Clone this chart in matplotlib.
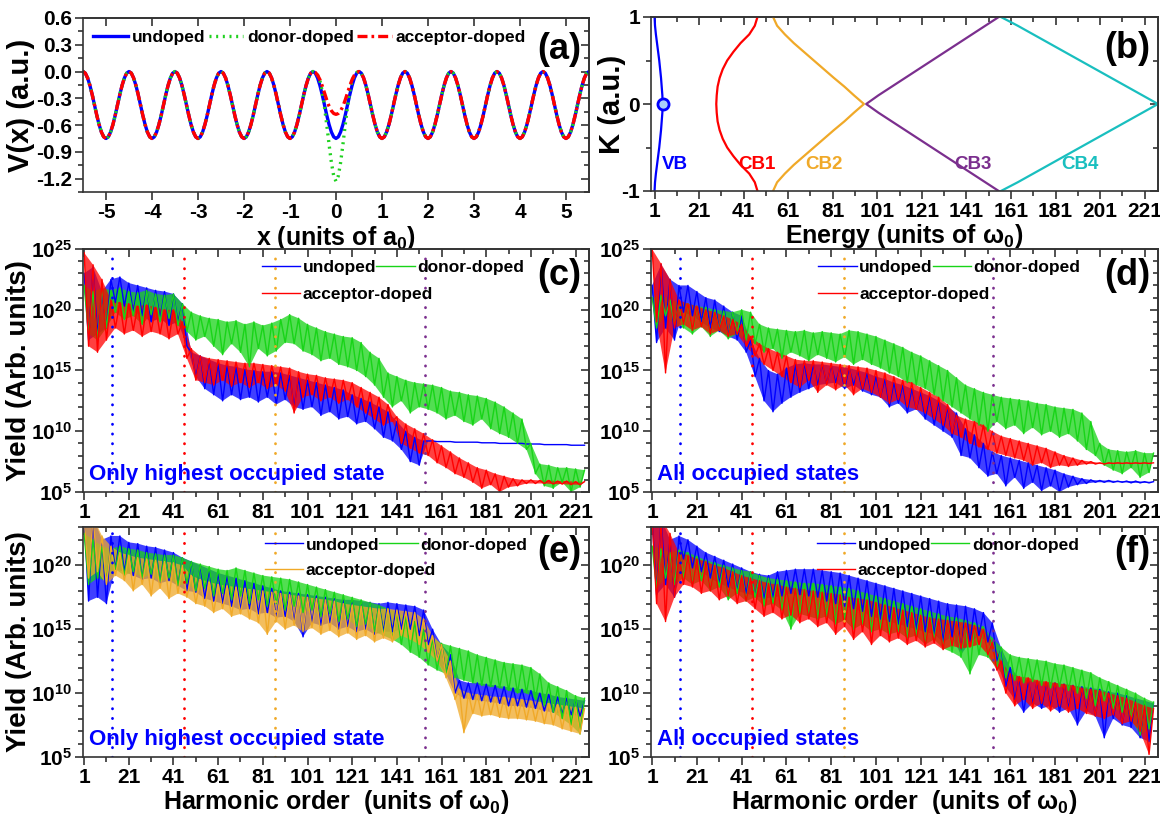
import numpy as np
import matplotlib.pyplot as plt
from matplotlib.ticker import FixedLocator, FuncFormatter, NullFormatter, FormatStrFormatter

plt.rcParams['font.family'] = ['Liberation Sans', 'DejaVu Sans']
plt.rcParams['font.weight'] = 'bold'
plt.rcParams['axes.labelweight'] = 'bold'
plt.rcParams['axes.unicode_minus'] = False
plt.rcParams['mathtext.fontset'] = 'custom'
plt.rcParams['mathtext.rm'] = 'Liberation Sans:bold'
plt.rcParams['mathtext.bf'] = 'Liberation Sans:bold'
plt.rcParams['mathtext.it'] = 'Liberation Sans:bold'

BLUE, GREEN, RED = '#0000ff', '#18d418', '#ff0000'
ORANGE, PURPLE, CYAN = '#f0a928', '#7b2f8e', '#19bfbf'
SPINE = '#333333'

# ---- (a) lattice potential: half a cell, from the well centre (0) to the barrier top (0.5)
cell_x = [0.0, 0.05, 0.1, 0.15, 0.2, 0.25, 0.3, 0.35, 0.4, 0.45, 0.5]
lattice_v = [-0.75, -0.732, -0.678, -0.595, -0.491, -0.375, -0.259, -0.155, -0.072, -0.018, 0.0]
donor_v = [-1.23, -1.17, -1.02, -0.82, -0.60, -0.40, -0.22, -0.10, -0.04, -0.01, 0.0]
acceptor_v = [-0.48, -0.47, -0.44, -0.39, -0.32, -0.24, -0.16, -0.09, -0.04, -0.01, 0.0]
cells = list(range(-5, 6))

# ---- (b) bands, E (units of w0) at k = 0 ... 1 (symmetric in k)
k_half = [0.0, 0.1, 0.2, 0.3, 0.4, 0.5, 0.6, 0.7, 0.8, 0.9, 1.0]
vb = [4.6, 4.5, 4.2, 3.9, 3.5, 3.1, 2.6, 2.1, 1.6, 1.2, 1.0]
cb1 = [28.7, 28.9, 29.3, 30.2, 31.6, 33.6, 36.4, 39.6, 43.5, 46.0, 47.2]
cb2 = [95.0, 90.5, 86.2, 81.5, 77.0, 72.5, 68.0, 63.5, 59.5, 56.0, 54.2]
cb3 = [96.0, 101.5, 107.5, 113.5, 119.5, 125.5, 131.5, 137.5, 143.5, 149.5, 155.5]
cb4 = [227.0, 220.0, 213.0, 206.0, 199.0, 192.0, 185.0, 178.0, 171.0, 164.0, 156.5]
band_names = ['VB', 'CB1', 'CB2', 'CB3', 'CB4']
band_label_e = [10, 47, 77, 144, 192]

# ---- (c)-(f) spectra, log10(yield): peaks at orders 1,5,9,... and dips at 3,7,11,...
orders = np.arange(1, 227, 2)
gap_orders = [13.5, 45.5, 86.5, 153.5]

c_undoped_top = [23.0, 23.5, 21.5, 22.5, 22.7, 22.2, 22.0, 21.8, 21.6, 21.5,
                 21.3, 20.5, 16.5, 16.2, 15.9, 15.6, 15.4, 15.3, 15.1, 15.0,
                 14.9, 14.9, 14.8, 14.6, 14.4, 14.2, 14.0, 13.8, 13.6, 13.4,
                 13.0, 12.7, 12.4, 12.0, 11.6, 10.8, 10.0, 9.5, 9.2, 9.2,
                 9.15, 9.15, 9.1, 9.1, 9.1, 9.05, 9.05, 9.0, 9.0, 9.0,
                 8.95, 8.95, 8.9, 8.9, 8.9, 8.85, 8.85]
c_undoped_bot = [17.5, 18.0, 18.5, 20.6, 20.3, 19.8, 19.5, 19.0, 19.3, 18.7,
                 19.0, 17.0, 14.5, 13.5, 13.0, 12.5, 13.0, 12.6, 12.8, 12.4,
                 12.8, 12.2, 12.6, 12.0, 11.8, 12.0, 11.3, 11.6, 11.0, 11.2,
                 10.6, 10.8, 10.2, 9.5, 9.2, 8.5, 7.5, 7.2, 9.2, 9.15,
                 9.15, 9.1, 9.1, 9.1, 9.05, 9.05, 9.0, 9.0, 9.0, 8.95,
                 8.95, 8.9, 8.9, 8.9, 8.85, 8.85]
c_donor_top = [22.0, 21.5, 21.8, 21.6, 21.8, 21.5, 21.4, 21.6, 21.3, 21.2,
               21.3, 20.5, 19.8, 19.5, 19.3, 19.2, 19.0, 19.1, 18.8, 19.0,
               18.7, 18.9, 19.2, 19.6, 19.3, 18.8, 18.5, 18.2, 18.0, 17.8,
               17.7, 17.3, 16.5, 16.0, 14.8, 14.5, 14.2, 14.0, 13.9, 13.8,
               13.6, 13.3, 13.2, 13.0, 12.9, 12.7, 12.4, 12.0, 11.5, 11.0,
               9.0, 7.3, 7.2, 7.0, 7.0, 6.9, 6.8]
c_donor_bot = [18.0, 17.5, 18.5, 19.8, 19.2, 19.5, 18.8, 19.6, 19.0, 19.3,
               18.7, 18.2, 17.5, 17.8, 17.0, 16.3, 17.2, 16.5, 15.3, 16.8,
               16.2, 16.6, 17.3, 17.2, 16.6, 16.3, 15.8, 16.0, 15.5, 15.3,
               15.0, 14.5, 13.8, 12.8, 12.0, 12.5, 11.5, 12.0, 11.8, 11.5,
               11.0, 11.3, 10.8, 10.5, 11.0, 10.2, 9.8, 9.5, 9.0, 8.5,
               6.5, 5.5, 5.3, 5.8, 5.0, 5.4]
c_acceptor_top = [24.7, 23.7, 22.5, 20.8, 20.6, 20.5, 20.3, 20.4, 20.2, 20.0,
                  20.0, 19.0, 16.8, 16.2, 16.0, 15.9, 15.8, 15.7, 15.6, 15.6,
                  15.5, 15.4, 15.3, 15.2, 14.9, 14.7, 14.6, 14.4, 14.3, 14.2,
                  14.0, 13.6, 13.2, 12.8, 12.2, 11.2, 10.6, 10.2, 9.8, 9.3,
                  8.8, 8.3, 7.8, 7.4, 7.0, 6.8, 6.5, 6.3, 6.1, 6.0,
                  6.0, 5.95, 5.95, 5.9, 5.9, 5.85, 5.85]
c_acceptor_bot = [17.0, 16.5, 17.5, 18.5, 18.0, 18.3, 17.8, 18.2, 18.0, 17.6,
                  18.0, 16.0, 14.2, 14.0, 13.8, 14.2, 13.7, 14.0, 13.6, 14.0,
                  13.5, 13.8, 13.3, 11.5, 12.8, 13.0, 12.5, 12.8, 12.3, 12.6,
                  12.0, 11.5, 11.0, 10.5, 10.8, 9.0, 8.6, 8.2, 8.0, 7.4,
                  7.0, 6.5, 6.2, 5.8, 5.3, 5.6, 5.0, 5.4, 5.5, 5.7,
                  5.7, 5.7, 5.65, 5.65, 5.6, 5.6]

d_undoped_top = [22.0, 23.7, 22.5, 22.0, 22.0, 21.5, 21.0, 20.8, 20.3, 19.8,
                 19.5, 17.5, 16.0, 15.0, 14.7, 15.2, 15.5, 15.6, 15.5, 15.5,
                 15.4, 15.3, 15.2, 15.0, 14.8, 14.5, 14.3, 14.0, 13.8, 13.5,
                 13.2, 12.9, 12.5, 12.0, 11.5, 10.2, 9.7, 9.0, 8.3, 8.0,
                 7.8, 7.6, 7.4, 7.2, 7.0, 6.8, 6.5, 6.3, 6.1, 6.0,
                 5.95, 5.95, 5.9, 5.9, 5.9, 5.85, 5.85]
d_undoped_bot = [17.3, 18.5, 17.5, 19.8, 19.5, 19.0, 18.5, 18.2, 17.8, 17.5,
                 16.5, 14.5, 12.5, 11.6, 12.3, 12.8, 13.2, 13.5, 13.8, 13.9,
                 14.0, 13.5, 13.8, 13.3, 13.0, 12.8, 12.0, 12.3, 11.5, 11.8,
                 11.0, 10.5, 10.0, 9.5, 8.0, 7.8, 7.0, 6.3, 6.5, 5.5,
                 6.2, 5.3, 5.8, 5.1, 5.5, 5.0, 5.4, 5.6, 5.7, 5.8,
                 5.8, 5.8, 5.8, 5.75, 5.75, 5.75]
d_donor_top = [21.0, 21.2, 20.8, 20.6, 20.5, 20.3, 20.2, 20.0, 19.9, 19.8,
               20.0, 19.8, 18.8, 18.5, 18.4, 18.3, 18.2, 18.3, 18.1, 18.2,
               18.1, 18.0, 18.3, 18.2, 18.0, 17.8, 17.5, 17.2, 16.9, 16.5,
               16.2, 15.8, 15.4, 15.0, 14.4, 13.8, 13.5, 13.2, 13.0, 12.8,
               12.7, 12.6, 12.5, 12.3, 12.2, 12.0, 11.9, 11.8, 11.5, 10.8,
               9.0, 8.5, 8.4, 8.3, 8.4, 8.2, 8.2]
d_donor_bot = [18.5, 19.5, 18.8, 18.5, 18.0, 18.6, 17.8, 18.3, 17.6, 18.0,
               17.5, 17.2, 16.5, 16.8, 16.0, 16.5, 16.2, 15.8, 16.3, 16.0,
               15.7, 16.1, 15.5, 15.9, 15.5, 15.2, 14.8, 14.5, 14.0, 13.8,
               13.5, 13.0, 12.5, 12.0, 11.5, 11.0, 10.5, 10.0, 10.8, 10.2,
               10.5, 9.8, 10.3, 9.7, 10.0, 9.5, 9.8, 9.2, 8.5, 8.0,
               7.2, 6.8, 6.5, 7.0, 6.2, 6.6]
d_acceptor_top = [25.0, 23.8, 22.5, 20.8, 20.5, 20.3, 20.0, 19.8, 19.5, 19.2,
                  18.8, 17.8, 17.2, 16.8, 16.5, 16.2, 15.9, 15.8, 15.8, 15.7,
                  15.6, 15.5, 15.4, 15.3, 15.2, 15.0, 14.8, 14.5, 14.2, 14.0,
                  13.6, 13.2, 12.8, 12.2, 11.3, 11.0, 10.8, 10.5, 10.0, 9.6,
                  9.4, 9.2, 9.0, 8.8, 8.6, 8.3, 8.0, 7.8, 7.6, 7.5,
                  7.4, 7.4, 7.4, 7.4, 7.4, 7.4, 7.4]
d_acceptor_bot = [19.0, 14.8, 18.5, 18.8, 18.3, 18.6, 18.0, 18.3, 17.8, 18.0,
                  17.0, 16.2, 15.5, 15.0, 14.5, 14.0, 13.6, 14.2, 13.2, 13.8,
                  13.4, 13.8, 13.0, 13.5, 13.2, 12.8, 12.3, 12.6, 12.0, 11.8,
                  11.5, 11.0, 10.5, 9.8, 9.5, 9.0, 8.7, 8.5, 8.2, 8.0,
                  7.8, 7.6, 7.2, 7.4, 7.0, 7.2, 7.1, 7.2, 7.3, 7.3,
                  7.3, 7.35, 7.35, 7.35, 7.35, 7.35]

e_undoped_top = [23.8, 23.8, 22.0, 22.3, 22.3, 21.8, 21.7, 21.5, 21.4, 21.2,
                 21.0, 20.6, 20.3, 20.0, 19.7, 19.4, 19.2, 19.0, 18.8, 18.6,
                 18.4, 18.2, 18.0, 17.9, 17.8, 17.7, 17.6, 17.5, 17.4, 17.3,
                 17.3, 17.2, 17.1, 17.0, 17.1, 17.0, 16.9, 16.8, 16.5, 15.0,
                 13.8, 13.0, 11.0, 10.8, 10.8, 10.7, 10.6, 10.5, 10.4, 10.3,
                 10.2, 10.0, 9.9, 9.7, 9.6, 9.5, 9.4]
e_undoped_bot = [17.2, 17.5, 17.0, 19.7, 19.5, 19.2, 18.9, 19.0, 18.6, 18.8,
                 18.4, 18.0, 17.9, 17.4, 17.2, 17.0, 16.8, 16.5, 16.6, 16.2,
                 16.3, 15.9, 16.0, 15.6, 14.4, 15.5, 15.3, 15.5, 15.0, 15.2,
                 14.8, 15.0, 14.6, 14.8, 14.8, 15.0, 15.0, 14.5, 13.8, 12.5,
                 11.5, 10.0, 9.6, 9.5, 9.4, 9.3, 9.2, 9.0, 9.0, 8.9,
                 8.8, 8.6, 8.5, 8.4, 8.3, 8.2]
e_donor_top = [22.5, 22.0, 21.5, 21.3, 21.5, 21.3, 21.2, 21.0, 20.9, 20.8,
               20.8, 20.6, 20.3, 20.1, 19.9, 19.7, 19.6, 19.8, 19.6, 19.4,
               19.2, 19.1, 19.0, 18.9, 18.7, 18.5, 18.3, 18.1, 17.9, 17.7,
               17.5, 17.3, 17.1, 16.9, 16.6, 16.3, 16.0, 15.6, 15.0, 14.3,
               13.9, 13.7, 13.5, 13.3, 13.0, 12.8, 12.6, 12.4, 12.3, 12.2,
               12.0, 11.5, 10.8, 10.5, 10.2, 9.8, 9.6]
e_donor_bot = [18.5, 19.0, 18.8, 19.7, 19.2, 19.5, 19.0, 19.3, 18.7, 19.0,
               18.4, 18.6, 18.0, 18.2, 17.6, 17.8, 17.3, 17.6, 17.0, 17.3,
               16.8, 17.0, 16.5, 16.8, 16.3, 16.5, 16.0, 16.2, 15.6, 15.8,
               15.2, 15.4, 14.8, 14.5, 14.2, 13.8, 13.2, 12.8, 12.2, 11.8,
               11.5, 11.2, 11.0, 10.8, 10.6, 10.5, 10.4, 10.2, 10.0, 10.0,
               9.5, 9.0, 8.5, 8.0, 7.5, 6.8]
e_acceptor_top = [23.8, 23.8, 22.3, 21.5, 21.0, 20.8, 20.6, 20.5, 20.4, 20.3,
                  20.2, 20.0, 19.2, 18.9, 18.7, 18.5, 18.4, 18.3, 18.2, 18.1,
                  18.0, 17.9, 17.8, 17.7, 17.6, 17.5, 17.4, 17.3, 17.2, 17.0,
                  16.9, 16.8, 16.7, 16.6, 16.6, 16.5, 16.4, 16.3, 15.8, 14.5,
                  13.8, 12.5, 10.3, 10.0, 9.9, 9.8, 9.7, 9.7, 9.6, 9.5,
                  9.4, 9.3, 9.2, 9.1, 9.0, 8.9, 8.8]
e_acceptor_bot = [19.0, 19.5, 18.5, 19.2, 18.8, 18.0, 18.5, 17.6, 18.2, 17.4,
                  17.8, 17.5, 17.0, 16.8, 16.3, 16.6, 16.0, 16.2, 15.8, 15.5,
                  14.6, 15.6, 15.0, 15.3, 14.8, 15.1, 14.6, 14.9, 14.4, 14.7,
                  14.2, 14.5, 14.0, 14.3, 14.0, 14.5, 14.2, 13.8, 13.2, 12.5,
                  11.2, 9.5, 6.9, 8.4, 8.2, 8.3, 8.1, 8.0, 8.0, 7.9,
                  7.8, 7.6, 7.5, 7.2, 7.0, 6.8]

f_undoped_top = [23.7, 23.7, 22.0, 22.3, 22.0, 21.5, 21.0, 20.7, 20.4, 20.1,
                 19.8, 19.5, 19.3, 19.2, 19.5, 19.6, 19.7, 19.7, 19.7, 19.6,
                 19.5, 19.4, 19.2, 19.0, 18.8, 18.6, 18.4, 18.2, 18.0, 17.8,
                 17.6, 17.4, 17.2, 17.0, 16.9, 16.8, 16.6, 16.3, 15.5, 13.5,
                 12.0, 11.2, 11.0, 10.9, 10.8, 10.8, 10.7, 10.6, 10.5, 10.4,
                 10.3, 10.1, 10.0, 9.8, 9.6, 9.4, 9.2]
f_undoped_bot = [17.7, 18.5, 17.5, 20.5, 19.8, 19.5, 19.0, 18.6, 18.3, 18.0,
                 17.8, 17.6, 17.4, 17.5, 17.6, 17.8, 17.7, 17.6, 17.5, 17.2,
                 17.0, 16.8, 16.6, 16.4, 16.0, 15.8, 15.6, 15.4, 15.2, 15.0,
                 14.8, 14.6, 14.0, 14.4, 13.0, 14.0, 14.5, 14.0, 12.5, 10.5,
                 9.5, 8.5, 9.2, 8.8, 9.0, 8.5, 8.8, 7.5, 8.6, 8.2,
                 6.5, 8.0, 7.5, 7.3, 6.5, 6.2]
f_donor_top = [21.5, 21.3, 21.0, 21.2, 21.0, 20.7, 20.4, 20.2, 20.0, 19.8,
               19.6, 19.5, 19.2, 19.0, 18.9, 18.8, 18.7, 18.6, 18.6, 18.5,
               18.4, 18.3, 18.2, 18.0, 17.8, 17.6, 17.4, 17.2, 17.0, 16.8,
               16.6, 16.4, 16.2, 16.0, 15.9, 15.7, 15.5, 15.2, 14.3, 13.6,
               13.0, 12.8, 12.7, 12.6, 12.5, 12.3, 12.2, 12.0, 11.8, 11.6,
               11.2, 10.9, 10.6, 10.3, 10.0, 9.6, 9.3]
f_donor_bot = [18.2, 19.0, 18.5, 19.0, 18.5, 18.8, 18.0, 18.3, 17.3, 17.8,
               17.2, 17.5, 16.8, 17.0, 16.5, 15.0, 16.2, 16.0, 15.8, 16.0,
               15.4, 15.7, 15.0, 15.4, 14.8, 15.0, 14.6, 14.8, 14.3, 14.5,
               13.8, 14.2, 13.5, 13.2, 12.8, 11.5, 13.0, 12.8, 12.0, 11.2,
               11.0, 10.8, 10.9, 10.6, 10.4, 10.5, 10.2, 10.0, 9.6, 9.0,
               9.4, 8.8, 8.5, 8.0, 6.7, 7.2]
f_acceptor_top = [23.7, 23.7, 22.5, 21.0, 20.8, 20.5, 20.3, 20.0, 19.8, 19.5,
                  19.2, 19.0, 18.8, 18.6, 18.5, 18.3, 18.2, 18.1, 18.0, 17.9,
                  17.8, 17.7, 17.5, 17.4, 17.3, 17.1, 16.9, 16.7, 16.5, 16.3,
                  16.1, 15.9, 15.8, 15.7, 15.6, 15.5, 15.3, 15.0, 14.0, 12.5,
                  11.5, 11.3, 11.2, 11.0, 10.9, 10.8, 10.7, 10.6, 10.4, 10.3,
                  10.2, 10.0, 9.8, 9.6, 9.3, 9.0, 8.8]
f_acceptor_bot = [17.0, 15.6, 17.5, 18.5, 18.3, 17.8, 18.0, 17.3, 17.6, 17.0,
                  17.2, 16.6, 16.0, 16.3, 15.8, 16.1, 15.5, 15.8, 15.2, 15.5,
                  14.6, 15.2, 14.2, 14.8, 13.8, 14.5, 14.0, 14.3, 13.8, 14.1,
                  13.6, 13.9, 13.4, 13.7, 13.5, 13.6, 13.8, 13.0, 11.8, 10.0,
                  9.0, 9.5, 8.8, 9.2, 8.6, 9.0, 8.5, 8.8, 8.4, 8.2,
                  8.0, 8.3, 7.6, 7.8, 7.0, 5.2]

W, H = 1160, 823
fig = plt.figure(figsize=(W / 100, H / 100), dpi=100)


def panel(x0, y0, x1, y1):
    # axes placed by pixel box (left, top, right, bottom)
    return fig.add_axes([x0 / W, 1 - y1 / H, (x1 - x0) / W, (y1 - y0) / H])


def pow10(v, pos):
    return r'$\mathbf{10^{%d}}$' % round(np.log10(v))


def frame(ax, xmaj, xmin, ymaj, ymin):
    ax.xaxis.set_major_locator(FixedLocator(xmaj))
    ax.xaxis.set_minor_locator(FixedLocator(xmin))
    ax.yaxis.set_major_locator(FixedLocator(ymaj))
    ax.yaxis.set_minor_locator(FixedLocator(ymin))
    ax.yaxis.set_minor_formatter(NullFormatter())
    ax.tick_params(which='both', direction='out', width=1.2, color=SPINE,
                   labelsize=15, pad=2)
    ax.tick_params(which='major', length=6)
    ax.tick_params(which='minor', length=3.5)
    for s in ax.spines.values():
        s.set_color(SPINE)
        s.set_linewidth(1.2)
    # mirrored ticks on top and right, pointing inwards
    top = ax.secondary_xaxis('top')
    right = ax.secondary_yaxis('right')
    top.xaxis.set_major_locator(FixedLocator(xmaj))
    top.xaxis.set_minor_locator(FixedLocator(xmin))
    right.yaxis.set_major_locator(FixedLocator(ymaj))
    right.yaxis.set_minor_locator(FixedLocator(ymin))
    for sec, axis in ((top, top.xaxis), (right, right.yaxis)):
        axis.set_major_formatter(NullFormatter())
        axis.set_minor_formatter(NullFormatter())
        sec.tick_params(which='both', direction='in', width=1.2, color=SPINE)
        sec.tick_params(which='major', length=6)
        sec.tick_params(which='minor', length=3.5)
        for s in sec.spines.values():
            s.set_color(SPINE)
            s.set_linewidth(1.2)


# ---------------- (a) ----------------
def chain(centre):
    xs, vs = [], []
    for n in cells:
        half = centre if n == 0 else lattice_v
        for dx, v in zip(cell_x[::-1], half[::-1]):
            xs.append(n - dx)
            vs.append(v)
        for dx, v in zip(cell_x[1:], half[1:]):
            xs.append(n + dx)
            vs.append(v)
    return xs, vs


ax = panel(83, 18, 589, 192)
x, v = chain(lattice_v)
ax.plot(x, v, color=BLUE, lw=2.4, label='undoped')
x, v = chain(donor_v)
ax.plot(x, v, color='#1fd11f', lw=2.4, ls=(0, (0.6, 1.4)), label='donor-doped')
x, v = chain(acceptor_v)
ax.plot(x, v, color=RED, lw=2.4, ls=(0, (3, 1.2, 0.8, 1.2)), label='acceptor-doped')
ax.set_xlim(-5.5, 5.5)
ax.set_ylim(-1.35, 0.6)
frame(ax, range(-5, 6), [], np.arange(-1.2, 0.61, 0.3), np.arange(-1.35, 0.6, 0.15))
ax.yaxis.set_major_formatter(FormatStrFormatter('%.1f'))
ax.set_ylabel('V(x) (a.u.)', fontsize=21)
ax.yaxis.set_label_coords(-0.095, 0.5)
ax.set_xlabel(r'x (units of a$_0$)', fontsize=18, labelpad=1)
ax.legend(loc='upper left', bbox_to_anchor=(0.0, 0.99), ncol=3, frameon=False,
          fontsize=12.5, handlelength=2.0, handletextpad=0.2, columnspacing=0.2,
          borderaxespad=0.2)
ax.text(0.985, 0.82, '(a)', transform=ax.transAxes, ha='right', va='center', fontsize=26)

# ---------------- (b) ----------------
ax = panel(651, 17, 1158, 191)
k_full = [-kk for kk in k_half[:0:-1]] + k_half
for band, col in zip([vb, cb1, cb2, cb3, cb4], [BLUE, RED, ORANGE, PURPLE, CYAN]):
    ax.plot(band[:0:-1] + band, k_full, color=col, lw=1.6)
ax.plot(vb[0], k_half[0], 'o', ms=8, mfc='#a9cdfa', mec=BLUE, mew=2)
for name, e, col in zip(band_names, band_label_e, [BLUE, RED, ORANGE, PURPLE, CYAN]):
    ax.text(e, -0.7, name, color=col, ha='center', va='center', fontsize=13.5)
ax.set_xlim(-0.6, 227)
ax.set_ylim(-1, 1)
frame(ax, range(1, 222, 20), range(11, 227, 20), [-1, 0, 1], [-0.5, 0.5])
ax.set_ylabel('K (a.u.)', fontsize=21)
ax.yaxis.set_label_coords(-0.05, 0.5)
ax.set_xlabel('Energy (units of ω$_0$)', fontsize=18, labelpad=1)
ax.text(0.985, 0.82, '(b)', transform=ax.transAxes, ha='right', va='center', fontsize=26)


# ---------------- (c)-(f) ----------------
def zigzag(top, bot):
    y = np.empty(len(top) + len(bot))
    y[0::2] = top
    y[1::2] = bot
    return 10.0 ** y


def band_outline(top, bot):
    # polygon running along the peaks and back along the dips
    xs = list(orders[0::2]) + list(orders[1::2][::-1])
    ys = list(top) + list(bot[::-1])
    return xs, 10.0 ** np.array(ys)


spectra = [
    ('(c)', (83, 249, 589, 492), 25, 0.354, 'Only highest occupied state',
     [(c_undoped_top, c_undoped_bot, BLUE), (c_donor_top, c_donor_bot, GREEN),
      (c_acceptor_top, c_acceptor_bot, RED)]),
    ('(d)', (651, 249, 1158, 492), 25, 0.33, 'All occupied states',
     [(d_undoped_top, d_undoped_bot, BLUE), (d_donor_top, d_donor_bot, GREEN),
      (d_acceptor_top, d_acceptor_bot, RED)]),
    ('(e)', (83, 527, 589, 757), 23.0, 0.36, 'Only highest occupied state',
     [(e_undoped_top, e_undoped_bot, BLUE), (e_donor_top, e_donor_bot, GREEN),
      (e_acceptor_top, e_acceptor_bot, ORANGE)]),
    ('(f)', (651, 527, 1158, 757), 23.0, 0.327, 'All occupied states',
     [(f_undoped_top, f_undoped_bot, BLUE), (f_donor_top, f_donor_bot, GREEN),
      (f_acceptor_top, f_acceptor_bot, RED)]),
]
names = ['undoped', 'donor-doped', 'acceptor-doped']
leg_style = dict(loc='upper left', frameon=False, fontsize=12.5, handlelength=2.2,
                 handletextpad=0.15, columnspacing=0.0, borderaxespad=0.0, borderpad=0.0)

for tag, box, ytop, legx, note, series in spectra:
    ax = panel(*box)
    lines = []
    for (top, bot, col), name in zip(series, names):
        bx, by = band_outline(top, bot)
        ax.fill(bx, by, color=col, alpha=0.75, lw=0)
        ln, = ax.plot(orders, zigzag(top, bot), color=col, lw=1.0, label=name)
        lines.append(ln)
    for g, col in zip(gap_orders, [BLUE, RED, ORANGE, PURPLE]):
        ax.axvline(g, color=col, lw=2.0, ls=(0, (0.1, 3.4)), dash_capstyle='round')
    ax.set_yscale('log')
    ax.set_xlim(0.5, 227)
    ax.set_ylim(1e5, 10.0 ** ytop)
    frame(ax, range(1, 222, 20), range(11, 227, 20),
          [1e5, 1e10, 1e15, 1e20, 1e25], [10.0 ** p for p in range(5, 26)])
    ax.yaxis.set_major_formatter(FuncFormatter(pow10))
    if tag in ('(c)', '(e)'):
        ax.set_ylabel('Yield (Arb. units)', fontsize=20)
        ax.yaxis.set_label_coords(-0.1, 0.5)
    if tag in ('(e)', '(f)'):
        ax.set_xlabel('Harmonic order  (units of ω$_0$)', fontsize=18, labelpad=1)
    row1 = ax.legend(lines[:2], names[:2], ncol=2, bbox_to_anchor=(legx, 0.955), **leg_style)
    ax.add_artist(row1)
    ax.legend(lines[2:], names[2:], bbox_to_anchor=(legx, 0.845), **leg_style)
    ax.text(0.985, 0.89, tag, transform=ax.transAxes, ha='right', va='center', fontsize=26)
    ax.text(0.012, 0.03, note, transform=ax.transAxes, ha='left', va='bottom',
            color=BLUE, fontsize=16)

fig.savefig('out.png', dpi=100)
